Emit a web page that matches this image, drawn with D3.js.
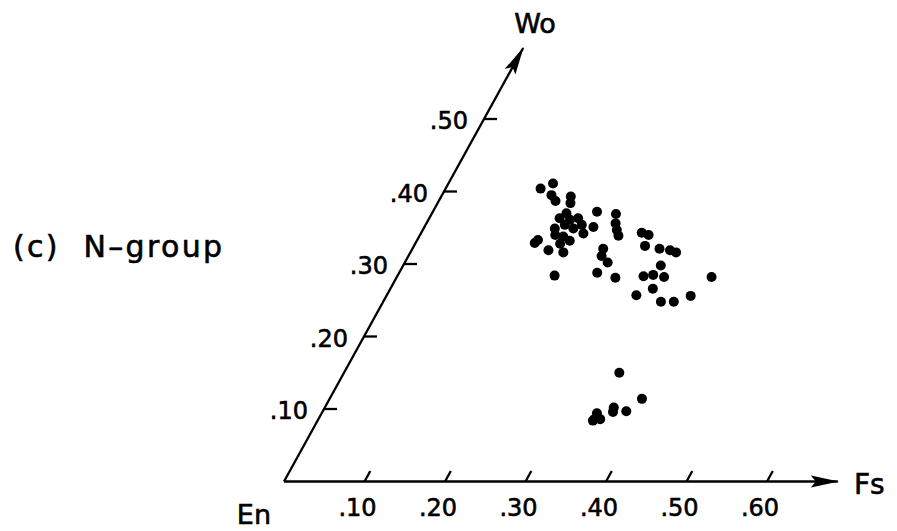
<!DOCTYPE html>
<html>
<head>
<meta charset="utf-8">
<script src="https://cdn.jsdelivr.net/npm/d3@7/dist/d3.min.js"></script>
<style>
  html, body { margin: 0; padding: 0; background: #fff; }
  svg text { font-family: "DejaVu Sans", sans-serif; fill: #000; stroke: #000; stroke-width: 0.6px; }
</style>
</head>
<body>
<svg id="chart" width="897" height="531"></svg>
<script>
// Pyroxene compositions, N-group: mole fractions of Fs and Wo (En = 1 - Fs - Wo)
const fsValues = [
  0.118, 0.130, 0.136, 0.145, 0.161, 0.165, 0.204, 0.167, 0.162, 0.176,
  0.185, 0.194, 0.173, 0.163, 0.186, 0.202, 0.168, 0.179, 0.190, 0.210,
  0.150, 0.148, 0.170, 0.180, 0.190, 0.195, 0.237, 0.240, 0.252, 0.246,
  0.272, 0.229, 0.235, 0.241, 0.247, 0.274, 0.284, 0.287, 0.307, 0.321,
  0.330, 0.320, 0.306, 0.317, 0.332, 0.391, 0.326, 0.310, 0.345, 0.361,
  0.378, 0.342, 0.388, 0.377, 0.359, 0.361, 0.342, 0.343, 0.350, 0.342
];
const woValues = [
  0.404, 0.411, 0.395, 0.387, 0.393, 0.384, 0.372, 0.370, 0.363, 0.361,
  0.363, 0.354, 0.354, 0.349, 0.349, 0.342, 0.340, 0.338, 0.332, 0.351,
  0.333, 0.329, 0.319, 0.328, 0.316, 0.284, 0.321, 0.311, 0.302, 0.288,
  0.281, 0.369, 0.356, 0.347, 0.339, 0.343, 0.340, 0.325, 0.321, 0.319,
  0.316, 0.298, 0.283, 0.285, 0.282, 0.282, 0.266, 0.257, 0.248, 0.248,
  0.256, 0.150, 0.114, 0.097, 0.102, 0.096, 0.094, 0.086, 0.086, 0.084
];
const fsTicks = [0.10, 0.20, 0.30, 0.40, 0.50, 0.60];
const woTicks = [0.10, 0.20, 0.30, 0.40, 0.50];
const fsAxisEnd = 0.688;
const woAxisEnd = 0.598;

const svg = d3.select("#chart");

// Oblique (ternary-style) frame: origin at En, Fs along the base, Wo at ~61 degrees
const origin = { x: 284, y: 481.5 };
const fsX = d3.scaleLinear().domain([0, 1]).range([0, 805]);
const woX = d3.scaleLinear().domain([0, 1]).range([0, 400]);
const woY = d3.scaleLinear().domain([0, 1]).range([0, 725]);
const px = (fs, wo) => origin.x + fsX(fs) + woX(wo);
const py = (fs, wo) => origin.y - woY(wo);

const tickFmt = v => d3.format(".2f")(v).replace(/^0/, "");
const strokeW = 2.3;

// Arrowheads
const defs = svg.append("defs");
defs.append("marker")
  .attr("id", "arrow")
  .attr("viewBox", "0 0 28 13")
  .attr("refX", 27).attr("refY", 6.5)
  .attr("markerWidth", 28).attr("markerHeight", 13)
  .attr("markerUnits", "userSpaceOnUse")
  .attr("orient", "auto")
  .append("path")
  .attr("d", "M0,0.5 L28,6.5 L0,12.5 L5,6.5 Z")
  .attr("fill", "#000");

const axes = svg.append("g").attr("stroke", "#000").attr("stroke-width", strokeW).attr("fill", "none");

// Fs axis
axes.append("line")
  .attr("x1", px(0, 0)).attr("y1", py(0, 0))
  .attr("x2", px(fsAxisEnd, 0)).attr("y2", py(fsAxisEnd, 0))
  .attr("marker-end", "url(#arrow)");

// Wo axis
axes.append("line")
  .attr("x1", px(0, 0)).attr("y1", py(0, 0))
  .attr("x2", px(0, woAxisEnd)).attr("y2", py(0, woAxisEnd))
  .attr("marker-end", "url(#arrow)");

// Fs ticks lean along the Wo direction (lines of constant Fs)
const tickLen = 12;
const woDirLen = Math.hypot(woX(1), woY(1));
const tdx = tickLen * woX(1) / woDirLen, tdy = tickLen * woY(1) / woDirLen;
axes.selectAll("line.fs-tick").data(fsTicks).join("line")
  .attr("class", "fs-tick")
  .attr("x1", d => px(d, 0)).attr("y1", d => py(d, 0))
  .attr("x2", d => px(d, 0) + tdx).attr("y2", d => py(d, 0) - tdy);

// Wo ticks are horizontal (lines of constant Wo)
axes.selectAll("line.wo-tick").data(woTicks).join("line")
  .attr("class", "wo-tick")
  .attr("x1", d => px(0, d)).attr("y1", d => py(0, d))
  .attr("x2", d => px(0, d) + 13).attr("y2", d => py(0, d));

// Tick labels
svg.append("g").selectAll("text").data(fsTicks).join("text")
  .attr("x", d => px(d, 0) - 7).attr("y", origin.y + 34)
  .attr("text-anchor", "middle")
  .attr("font-size", 24)
  .text(tickFmt);

svg.append("g").selectAll("text").data(woTicks).join("text")
  .attr("x", d => px(0, d) - 16).attr("y", d => py(0, d) + 10)
  .attr("text-anchor", "end")
  .attr("font-size", 24)
  .text(tickFmt);

// End-member labels
svg.append("text").attr("x", 535).attr("y", 33).attr("text-anchor", "middle")
  .attr("font-size", 27).text("Wo");
svg.append("text").attr("x", 854).attr("y", 494)
  .attr("font-size", 28).text("Fs");
svg.append("text").attr("x", 271).attr("y", 524).attr("text-anchor", "end")
  .attr("font-size", 27).text("En");

// Panel title
svg.append("text").attr("x", 13).attr("y", 257)
  .attr("font-size", 30)
  .attr("textLength", 209).attr("lengthAdjust", "spacing")
  .style("white-space", "pre")
  .text("(c)  N\u2013group");

// Data points
const points = fsValues.map((fs, i) => ({ fs, wo: woValues[i] }));
svg.append("g").selectAll("circle").data(points).join("circle")
  .attr("cx", d => px(d.fs, d.wo))
  .attr("cy", d => py(d.fs, d.wo))
  .attr("r", 5)
  .attr("fill", "#000");
</script>
</body>
</html>
